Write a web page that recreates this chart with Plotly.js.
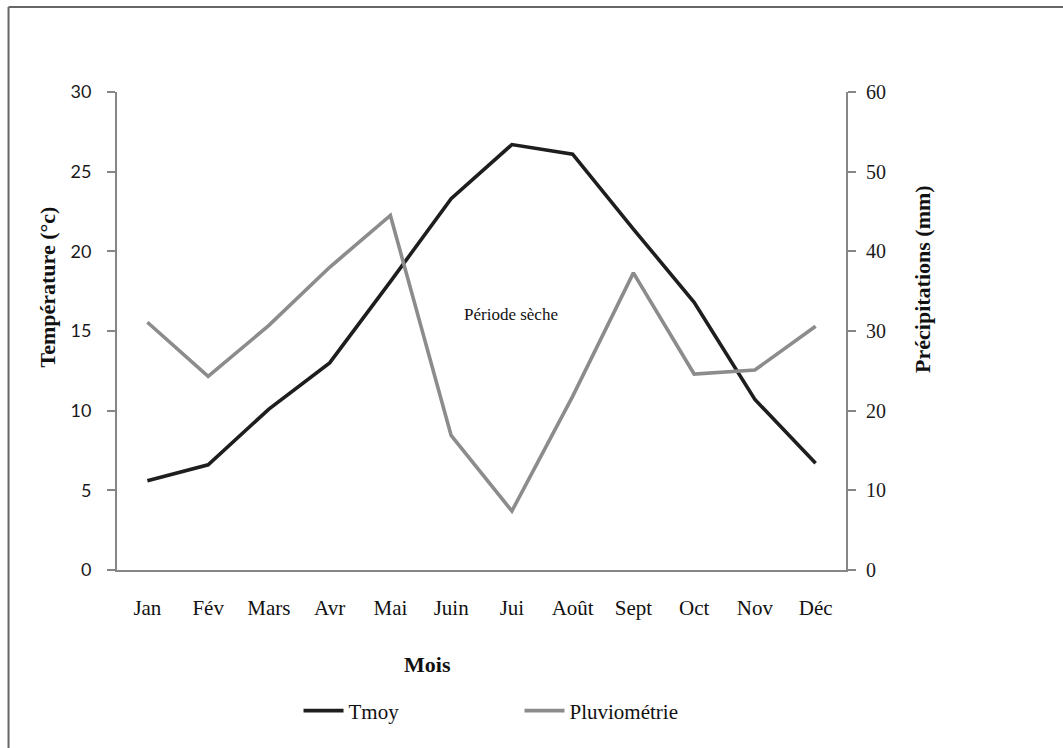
<!DOCTYPE html>
<html>
<head>
<meta charset="utf-8">
<script src="https://cdn.plot.ly/plotly-3.0.1.min.js"></script>
<style>html,body{margin:0;padding:0;background:#fff;}#chart{width:1063px;height:748px;}</style>
</head>
<body>
<div id="chart"></div>
<script>
const months = ["Jan","Fév","Mars","Avr","Mai","Juin","Jui","Août","Sept","Oct","Nov","Déc"];
const tmoy = [5.6, 6.6, 10.1, 13.0, 18.1, 23.3, 26.7, 26.1, 21.4, 16.8, 10.7, 6.7];
const pluvio = [31.1, 24.3, 30.7, 38.0, 44.5, 16.9, 7.4, 21.8, 37.3, 24.6, 25.1, 30.6];
const tempTicks = [0, 5, 10, 15, 20, 25, 30];
const precTicks = [0, 10, 20, 30, 40, 50, 60];

const serif = "Liberation Serif, Times New Roman, serif";
const axisGray = "#868686";

const data = [
  {x: months, y: tmoy, name: "Tmoy", type: "scatter", mode: "lines",
   line: {color: "#1e1e1e", width: 3.6}, yaxis: "y"},
  {x: months, y: pluvio, name: "Pluviométrie", type: "scatter", mode: "lines",
   line: {color: "#8c8c8c", width: 3.6}, yaxis: "y2"}
];

const layout = {
  width: 1063, height: 748,
  margin: {l: 117, r: 217, t: 92, b: 178},
  paper_bgcolor: "#fff", plot_bgcolor: "#fff",
  showlegend: true,
  legend: {orientation: "h", x: 0.249, xanchor: "left", y: -0.295, yanchor: "middle",
           font: {family: serif, size: 21, color: "#111"}, entrywidth: 166, entrywidthmode: "pixels",
           itemwidth: 40, bgcolor: "rgba(0,0,0,0)"},
  xaxis: {type: "category", range: [-0.5, 11.5], showgrid: false, zeroline: false,
          showline: true, linecolor: axisGray, linewidth: 2, ticks: "",
          tickfont: {family: serif, size: 21, color: "#111"}, ticklabelstandoff: 18},
  yaxis: {range: [0, 30], tickvals: tempTicks, showgrid: false, zeroline: false,
          showline: true, linecolor: axisGray, linewidth: 2, ticks: "outside", ticklen: 8,
          tickcolor: axisGray, tickwidth: 2,
          tickfont: {family: "Lato, Open Sans, sans-serif", size: 18, color: "#1a1a1a"}, ticklabelstandoff: 12},
  yaxis2: {range: [0, 60], tickvals: precTicks, overlaying: "y", side: "right", showgrid: false, zeroline: false,
           showline: true, linecolor: axisGray, linewidth: 2, ticks: "outside", ticklen: 8,
           tickcolor: axisGray, tickwidth: 2,
           tickfont: {family: serif, size: 20, color: "#1a1a1a"}, ticklabelstandoff: 6},
  annotations: [
    {text: "Période sèche", x: 0.540, y: 0.535, xref: "paper", yref: "paper",
     xanchor: "center", yanchor: "middle",
     showarrow: false, font: {family: serif, size: 17, color: "#111"}},
    {text: "<b>Température (°c)</b>", x: -0.096, y: 0.591, xref: "paper", yref: "paper",
     xanchor: "center", yanchor: "middle",
     textangle: -90, showarrow: false, font: {family: serif, size: 22, color: "#111"}},
    {text: "<b>Précipitations (mm)</b>", x: 1.105, y: 0.608, xref: "paper", yref: "paper",
     xanchor: "center", yanchor: "middle",
     textangle: -90, showarrow: false, font: {family: serif, size: 22, color: "#111"}},
    {text: "<b>Mois</b>", x: 0.426, y: -0.197, xref: "paper", yref: "paper",
     xanchor: "center", yanchor: "middle",
     showarrow: false, font: {family: serif, size: 22, color: "#111"}}
  ],
  shapes: [
    {type: "line", xref: "paper", yref: "paper", x0: -0.1488, x1: 1.4, y0: 1.1778, y1: 1.1778,
     line: {color: "#666", width: 2}},
    {type: "line", xref: "paper", yref: "paper", x0: -0.1488, x1: -0.1488, y0: 1.1778, y1: -0.4,
     line: {color: "#666", width: 2}}
  ]
};

Plotly.newPlot("chart", data, layout, {displayModeBar: false, staticPlot: true});
</script>
</body>
</html>
